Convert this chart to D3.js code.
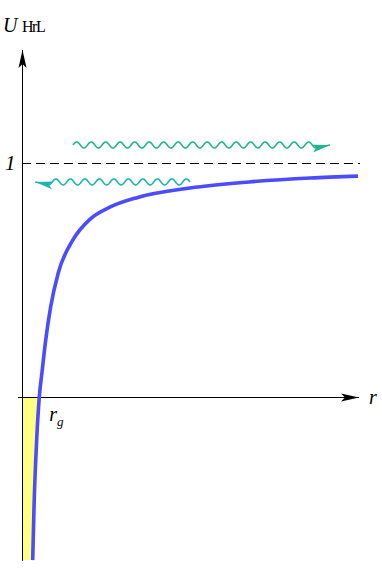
<!DOCTYPE html>
<html>
<head>
<meta charset="utf-8">
<script src="https://cdn.jsdelivr.net/npm/d3@7"></script>
<style>
  body { margin: 0; background: #fff; }
  text { font-family: "Liberation Serif", "DejaVu Serif", serif; }
</style>
</head>
<body>
<script>
// potential curve (r in units where axis length ~ 20.4)
var rVals = [0.65, 0.73, 0.89, 1.05, 1.21, 1.44, 1.74, 2.2, 3.09, 4.12, 5.33, 7.03, 10.2, 13.8, 17.5, 20.4];
var uVals = [-0.697, -0.47, -0.184, 0, 0.103, 0.244, 0.385, 0.53, 0.671, 0.759, 0.811, 0.853, 0.893, 0.919, 0.936, 0.944];
var rg = 1.05;
var asymptote = 1;
// photons: [from r, to r, at U]
var photonFrom = [3.1, 10.2];
var photonTo = [18.7, 0.8];
var photonU = [1.077, 0.919];
var photonColor = ["#1fb58c", "#1fb4b0"];

var w = 382, h = 573;
var svg = d3.select("body").append("svg").attr("width", w).attr("height", h);

var x = d3.scaleLinear().domain([0, 20.4]).range([22, 358]);
var y = d3.scaleLinear().domain([0, 1]).range([397, 163]);

var defs = svg.append("defs");
function marker(id, color) {
  defs.append("marker")
    .attr("id", id)
    .attr("viewBox", "0 0 18 10")
    .attr("refX", 18).attr("refY", 5)
    .attr("markerWidth", 18).attr("markerHeight", 10)
    .attr("markerUnits", "userSpaceOnUse")
    .attr("orient", "auto")
    .append("path")
    .attr("d", "M0,1 L18,5 L0,9 L4,5 Z")
    .attr("fill", color);
}
marker("ax", "#000");
marker("ph0", photonColor[0]);
marker("ph1", photonColor[1]);

var pts = rVals.map(function(r, i) { return [r, uVals[i]]; });

// yellow region between axis and curve below zero
var below = pts.filter(function(d) { return d[1] <= 0; });
svg.append("path")
  .datum(below)
  .attr("fill", "#ffff80")
  .attr("d", d3.area()
    .x0(x(0) + 0.5)
    .x1(function(d) { return x(d[0]); })
    .y(function(d) { return y(d[1]); })
    .curve(d3.curveMonotoneY));

// axes
svg.append("line").attr("x1", x(0) + 0.5).attr("x2", x(0) + 0.5).attr("y1", y(-0.7)).attr("y2", 50)
  .attr("stroke", "#000").attr("stroke-width", 1).attr("marker-end", "url(#ax)");
svg.append("line").attr("x1", 18).attr("x2", 359).attr("y1", y(0) + 0.5).attr("y2", y(0) + 0.5)
  .attr("stroke", "#000").attr("stroke-width", 1).attr("marker-end", "url(#ax)");

// asymptote
svg.append("line").attr("x1", x(0)).attr("x2", 360).attr("y1", y(asymptote) + 0.5).attr("y2", y(asymptote) + 0.5)
  .attr("stroke", "#000").attr("stroke-width", 1).attr("stroke-dasharray", "9,5");

// curve
svg.append("path")
  .datum(pts)
  .attr("fill", "none")
  .attr("stroke", "#4b4bff")
  .attr("stroke-width", 3.6)
  .attr("d", d3.line().x(function(d) { return x(d[0]); }).y(function(d) { return y(d[1]); }).curve(d3.curveMonotoneX));

// wavy photons
function wave(x0, x1, yy, headLen) {
  var dir = x1 > x0 ? 1 : -1;
  var len = Math.abs(x1 - x0) - headLen + 4;
  var p = [];
  for (var s = 0; s <= len; s += 0.5) {
    p.push([x0 + dir * s, yy - 3 * Math.sin(2 * Math.PI * s / 14.5)]);
  }
  p.push([x1, yy]);
  return d3.line()(p);
}
photonFrom.forEach(function(r0, i) {
  svg.append("path")
    .attr("d", wave(x(r0), x(photonTo[i]), y(photonU[i]), 18))
    .attr("fill", "none")
    .attr("stroke", photonColor[i])
    .attr("stroke-width", 1.6)
    .attr("marker-end", "url(#ph" + i + ")");
});

// labels
svg.append("text").attr("x", 3).attr("y", 32).attr("font-size", 20)
  .attr("font-style", "italic").text("U");
svg.append("text").attr("x", 22).attr("y", 32).attr("font-size", 16)
  .attr("letter-spacing", -1.5).text("HrL");

svg.append("text").attr("x", 5).attr("y", y(asymptote) + 7).attr("font-size", 21)
  .attr("font-style", "italic").text("1");
svg.append("text").attr("x", 369).attr("y", y(0) + 7).attr("font-size", 20)
  .attr("font-style", "italic").text("r");
var rgl = svg.append("text").attr("x", x(rg) + 10).attr("y", y(0) + 24).attr("font-size", 20)
  .attr("font-style", "italic");
rgl.append("tspan").text("r");
rgl.append("tspan").attr("font-size", 13).attr("dy", 5).text("g");
</script>
</body>
</html>
